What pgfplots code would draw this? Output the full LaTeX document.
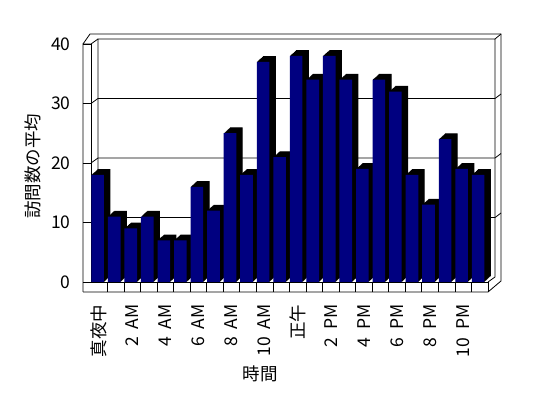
\documentclass[border=0pt]{standalone}
\usepackage{pgfplots}
\pgfplotsset{compat=1.18}
\usepackage{pgfplotstable}
\usepackage{fontspec}
\setmainfont{Noto Sans CJK JP}
\definecolor{barblue}{RGB}{0,0,128}
\newcommand{\wsp}{\hspace{0.45em}}
\pgfplotstableread{
x y
0 18
1 11
2 9
3 11
4 7
5 7
6 16
7 12
8 25
9 18
10 37
11 21
12 38
13 34
14 38
15 34
16 19
17 34
18 32
19 18
20 13
21 24
22 19
23 18
}\visits
\begin{document}
\begin{tikzpicture}[x=1pt,y=1pt]
\path[use as bounding box] (0,0) rectangle (548,398);
% 3D frame (walls and floor)
\begin{scope}[line width=0.8pt]
\draw (83,106) -- (83,354) -- (91,354) -- (98,359);
\draw (83,354) -- (90,364) -- (501,364) -- (501,117) -- (488,106) -- (83,106);
\draw (98,121) -- (98,359) -- (495,359) -- (495,121) -- (488,116);
\draw (495,359) -- (501,364);
\draw (83,116) -- (91,116);
\draw (488,106) -- (488,116);
\foreach \v in {10,20,30} {
  \pgfmathsetmacro{\yf}{116+5.95*\v}
  \pgfmathsetmacro{\yb}{\yf+5}
  \draw (98,\yb) -- (495,\yb) -- (501,\yb+4.5);
  \draw (91,\yf) -- (98,\yb);
}
\end{scope}
\begin{axis}[
  at={(91pt,116pt)}, anchor=south west,
  scale only axis, width=397pt, height=238pt,
  xmin=-0.5, xmax=23.5, ymin=0, ymax=40,
  clip=false,
  axis lines*=left,
  axis line style={black, line width=0.8pt},
  tick align=outside,
  major tick length=8pt,
  minor tick length=10pt,
  every tick/.style={black, line width=0.8pt},
  ytick={0,10,...,40},
  xtick={0,2,...,22},
  xticklabels={真夜中,2\wsp AM,4\wsp AM,6\wsp AM,8\wsp AM,10\wsp AM,正午,2\wsp PM,4\wsp PM,6\wsp PM,8\wsp PM,10\wsp PM},
  major x tick style={draw=none},
  minor xtick={0.5,1.5,...,22.5},
  /pgf/number format/assume math mode=true,
  tick label style={font=\fontsize{17.5}{19}\selectfont},
  xticklabel style={rotate=90, anchor=east},
  xticklabel shift=11pt,
  yticklabel shift=9pt,
  ylabel={訪問数の平均},
  xlabel={時間},
  label style={font=\fontsize{17.5}{19}\selectfont},
  ylabel style={at={(axis description cs:-0.146,0.487)}, anchor=center},
  xlabel style={at={(axis description cs:0.4257,-0.387)}, anchor=center},
]
\pgfplotsinvokeforeach{1,...,12}{
  \addplot[ybar, bar width=12.6pt, bar shift=-1.6pt, fill=black, draw=none,
    xshift=#1*0.53pt, yshift=#1*0.48pt] table[x=x,y=y] {\visits};
}
\addplot[ybar, bar width=12.6pt, bar shift=-1.6pt, fill=barblue, draw=none] table[x=x,y=y] {\visits};
\end{axis}
\end{tikzpicture}
\end{document}
